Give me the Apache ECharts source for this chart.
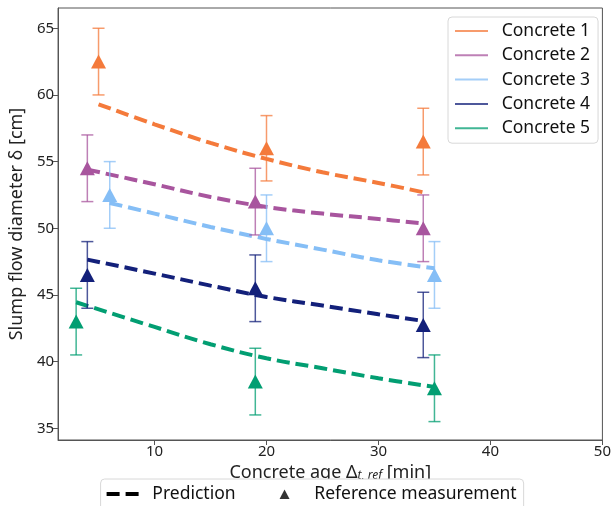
<!DOCTYPE html>
<html>
<head>
<meta charset="utf-8">
<script src="https://cdn.jsdelivr.net/npm/echarts@6/dist/echarts.min.js"></script>
<style>
  html, body { margin: 0; padding: 0; background: #fff; }
  #chart { width: 614px; height: 506px; }
</style>
</head>
<body>
<div id="chart"></div>
<script>
// 五种混凝土：名称与颜色
const concreteNames = ['Concrete 1', 'Concrete 2', 'Concrete 3', 'Concrete 4', 'Concrete 5'];
const colors = ['#f47a3b', '#a8559e', '#85bef6', '#13207a', '#029e72'];

// 参考测量值（三角形）及误差
const measX = [[5, 20, 34], [4, 19, 34], [6, 20, 35], [4, 19, 34], [3, 19, 35]];
const measY = [[62.5, 56, 56.5], [54.5, 52, 50], [52.5, 50, 46.5], [46.5, 45.5, 42.75], [43, 38.5, 38]];
const measErr = [[2.5, 2.45, 2.5], [2.5, 2.5, 2.5], [2.5, 2.5, 2.5], [2.5, 2.5, 2.45], [2.5, 2.5, 2.5]];

// 预测曲线（虚线），读图取点
const predX = [[5, 10, 15, 20, 25, 30, 34], [4, 10, 15, 20, 25, 30, 34], [6, 10, 15, 20, 25, 30, 35],
               [4, 10, 15, 20, 25, 30, 34], [3, 10, 15, 20, 25, 30, 35]];
const predY = [[59.3, 57.8, 56.4, 55.2, 54.2, 53.4, 52.7],
               [54.4, 53.3, 52.35, 51.6, 51.1, 50.7, 50.35],
               [51.9, 51.1, 50.1, 49.2, 48.4, 47.6, 47.0],
               [47.65, 46.6, 45.7, 44.85, 44.2, 43.55, 43.05],
               [44.45, 42.6, 41.3, 40.25, 39.5, 38.75, 38.1]];

// 刻度
const xTicks = [10, 20, 30, 40, 50];
const yTicks = [35, 40, 45, 50, 55, 60, 65];

const FONT = 'Noto Sans';
const zip = (xs, ys) => xs.map((x, i) => [x, ys[i]]);

const chart = echarts.init(document.getElementById('chart'));

const series = [];
concreteNames.forEach((name, i) => {
  // 预测虚线
  series.push({
    name: 'pred' + i,
    type: 'line',
    data: zip(predX[i], predY[i]),
    smooth: 0.4,
    symbol: 'none',
    z: 2,
    lineStyle: { color: colors[i], width: 4, type: [13, 6], cap: 'butt' }
  });
  // 误差棒（图例也挂在这里）
  series.push({
    name: name,
    type: 'custom',
    z: 3,
    itemStyle: { color: colors[i], opacity: 0.75 },
    data: measX[i].map((x, k) => [x, measY[i][k], measErr[i][k]]),
    renderItem: (params, api) => {
      const x = api.value(0), y = api.value(1), e = api.value(2);
      const top = api.coord([x, y + e]);
      const bot = api.coord([x, y - e]);
      const style = { stroke: colors[i], lineWidth: 1.5, opacity: 0.75 };
      return {
        type: 'group',
        children: [
          { type: 'line', shape: { x1: top[0], y1: top[1], x2: bot[0], y2: bot[1] }, style },
          { type: 'line', shape: { x1: top[0] - 6, y1: top[1], x2: top[0] + 6, y2: top[1] }, style },
          { type: 'line', shape: { x1: bot[0] - 6, y1: bot[1], x2: bot[0] + 6, y2: bot[1] }, style }
        ]
      };
    }
  });
  // 测量三角形
  series.push({
    name: 'meas' + i,
    type: 'scatter',
    z: 4,
    symbol: 'triangle',
    symbolSize: [15, 14],
    itemStyle: { color: colors[i], opacity: 1 },
    data: zip(measX[i], measY[i])
  });
});

// 底部图例用的空系列
series.push({ name: 'Prediction', type: 'line', data: [], itemStyle: { color: '#000' } });
series.push({ name: 'Reference measurement', type: 'scatter', data: [], itemStyle: { color: '#000' } });

chart.setOption({
  animation: false,
  textStyle: { fontFamily: FONT },
  grid: { left: 53, right: 8, top: 8, bottom: 66, show: true, borderColor: '#555', borderWidth: 1 },
  xAxis: {
    type: 'value',
    min: 1.385,
    max: 50,
    splitLine: { show: false },
    axisLine: { show: true, onZero: false, lineStyle: { color: '#555' } },
    axisTick: { show: true, length: 5, customValues: xTicks, lineStyle: { color: '#555' } },
    axisLabel: { customValues: xTicks, color: '#222', fontSize: 15, margin: 4, fontFamily: FONT },
    name: 'Concrete age Δ{sub|t, ref} [min]',
    nameLocation: 'middle',
    nameGap: 18,
    nameTextStyle: {
      color: '#222', fontSize: 18, fontFamily: FONT,
      rich: { sub: { fontSize: 12, fontStyle: 'italic', fontFamily: FONT, color: '#222', padding: [5, 0, 0, 0] } }
    }
  },
  yAxis: {
    type: 'value',
    min: 34.12,
    max: 66.52,
    splitLine: { show: false },
    axisLine: { show: true, onZero: false, lineStyle: { color: '#555' } },
    axisTick: { show: true, length: 5, customValues: yTicks, lineStyle: { color: '#555' } },
    axisLabel: { customValues: yTicks, color: '#222', fontSize: 15, margin: 4, fontFamily: FONT },
    name: 'Slump flow diameter δ [cm]',
    nameLocation: 'middle',
    nameRotate: 90,
    nameGap: 26,
    nameTextStyle: { color: '#222', fontSize: 18, fontFamily: FONT }
  },
  legend: [
    {
      orient: 'vertical',
      left: 448,
      top: 17,
      selectedMode: false,
      backgroundColor: '#fff',
      borderColor: '#d8d8d8',
      borderWidth: 1,
      borderRadius: 4,
      padding: [4, 8, 5, 7],
      itemGap: 4.3,
      itemWidth: 33,
      itemHeight: 2,
      icon: 'rect',
      data: concreteNames.map((n, i) => ({ name: n, itemStyle: { color: colors[i], opacity: 0.75 } })),
      textStyle: { fontSize: 17.5, lineHeight: 20, color: '#111', fontFamily: FONT, padding: [0, 0, 0, 8.7] }
    },
    {
      orient: 'horizontal',
      left: 100.6,
      top: 479,
      selectedMode: false,
      backgroundColor: '#fff',
      borderColor: '#d8d8d8',
      borderWidth: 1,
      borderRadius: 4,
      padding: [5, 7, 8, 6],
      itemGap: 33,
      itemWidth: 32,
      itemHeight: 12,
      data: [
        { name: 'Prediction', icon: 'path://M0,0h13v4h-13z M19,0h13v4h-13z' },
        { name: 'Reference measurement', icon: 'path://M0,0 M32,12 M11,11 L16,1.5 L21,11 Z' }
      ],
      textStyle: { fontSize: 17.5, lineHeight: 20, color: '#111', fontFamily: FONT, padding: [0, 0, 0, 8.7] }
    }
  ],
  series: series
});
</script>
</body>
</html>
